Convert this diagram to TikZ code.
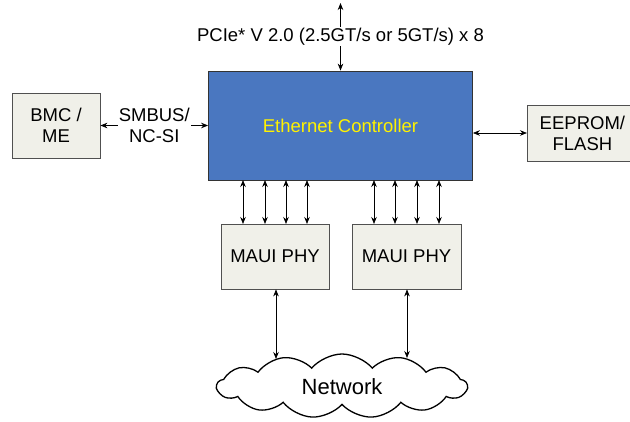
\documentclass[tikz,border=0pt]{standalone}
\usepackage{fontspec}
\setmainfont{Liberation Sans}
\usetikzlibrary{arrows.meta,shapes.symbols}
\definecolor{ctrlblue}{HTML}{4A77C0}
\definecolor{boxfill}{HTML}{F0F0E9}
\definecolor{boxline}{HTML}{505050}
\begin{document}
\begin{tikzpicture}[x=1pt,y=-1pt,
  font=\fontsize{18.5}{21}\selectfont,
  bx/.style={draw=boxline,fill=boxfill,line width=0.8pt,inner sep=0pt,align=center},
  link/.style={{Stealth[length=7pt,width=5.5pt]}-{Stealth[length=7pt,width=5.5pt]},line width=0.7pt,black},
  lbl/.style={fill=white,inner sep=1pt,align=center}]
\useasboundingbox (0,0) rectangle (630,422);
\node[draw=black!80,fill=ctrlblue,line width=0.8pt,minimum width=264pt,minimum height=109pt,text=yellow,inner sep=0pt] (ctrl) at (340.5,125.5) {Ethernet Controller};
\node[bx,minimum width=88pt,minimum height=65pt] (bmc) at (56,125.5) {BMC /\\ME};
\node[bx,minimum width=110pt,minimum height=56pt,anchor=west] (eeprom) at (527,133) {EEPROM/\\FLASH};
\node[bx,minimum width=108pt,minimum height=65pt] (phyA) at (275,256.5) {MAUI PHY};
\node[bx,minimum width=109pt,minimum height=65pt] (phyB) at (406.5,256.5) {MAUI PHY};
\node[cloud,draw=black,line width=1.3pt,cloud puffs=13,cloud puff arc=100,aspect=4,minimum width=250pt,minimum height=64pt,inner sep=0pt] (net) at (342,386) {};
\node[font=\fontsize{22}{24}\selectfont] at (342,387) {Network};
\coordinate (pcie) at (340.5,3);
\draw[link] (pcie) -- (ctrl.north) node[lbl,midway] {PCIe* V 2.0 (2.5GT/s or 5GT/s) x 8};
\draw[link] (bmc.east) -- (ctrl.west |- bmc.east) node[lbl,midway] {SMBUS/\\NC-SI};
\draw[link] (ctrl.east |- eeprom.west) -- (eeprom.west);
\foreach \x in {243,265,286,307,374,395,417,439}
  \draw[link] (\x,180) -- (\x,224);
\coordinate (nA) at (276,359);
\coordinate (nB) at (407,358);
\draw[link] (phyA.south -| nA) -- (nA);
\draw[link] (phyB.south -| nB) -- (nB);
\end{tikzpicture}
\end{document}
